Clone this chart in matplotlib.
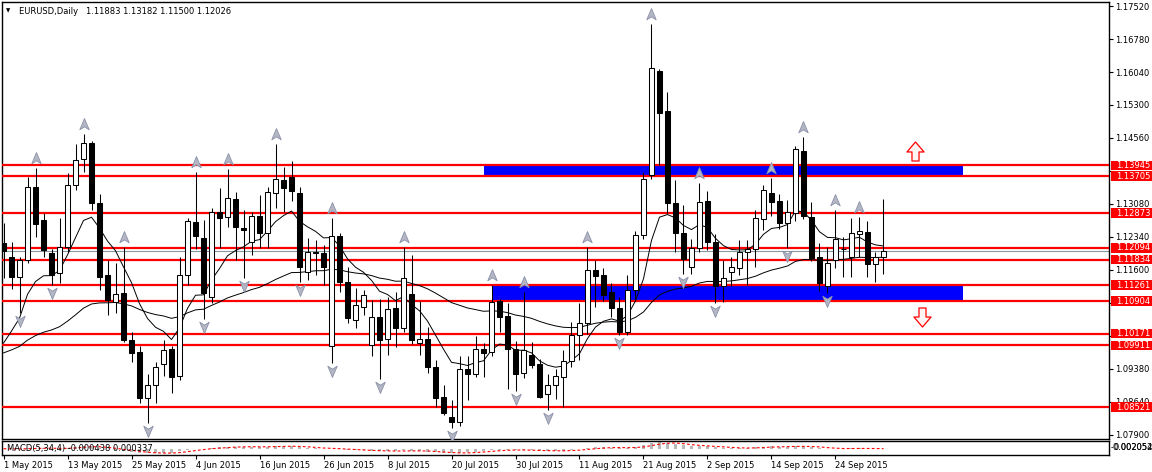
import numpy as np
import pandas as pd
import matplotlib
matplotlib.use("Agg")
import matplotlib.pyplot as plt
from matplotlib.path import Path
from matplotlib.patches import Rectangle
from matplotlib.transforms import blended_transform_factory, offset_copy

plt.rcParams['font.family'] = ['DejaVu Sans']

# EURUSD daily bars, 1 May 2015 .. 2 Oct 2015
opens = [1.1220, 1.1190, 1.1145, 1.1182, 1.1346, 1.1271, 1.1197, 1.1153, 1.1212, 1.1351,
         1.1408, 1.1444, 1.1311, 1.1149, 1.1089, 1.1108, 1.1003, 1.0975, 1.0872, 1.0902,
         1.0949, 1.0983, 1.0922, 1.1149, 1.1268, 1.1231, 1.1100, 1.1289, 1.1278, 1.1320,
         1.1254, 1.1223, 1.1281, 1.1242, 1.1333, 1.1362, 1.1369, 1.1332, 1.1156, 1.1197,
         1.1197, 1.0990, 1.1236, 1.1134, 1.1048, 1.1078, 1.0992, 1.1055, 1.1005, 1.1074,
         1.1029, 1.1106, 1.0996, 1.1005, 1.0942, 1.0874, 1.0830, 1.0818, 1.0937, 1.0927,
         1.0982, 1.0977, 1.1091, 1.1057, 1.0982, 1.0928, 1.0969, 1.0949, 1.0881, 1.0902,
         1.0919, 1.0956, 1.1014, 1.1040, 1.1160, 1.1149, 1.1111, 1.1074, 1.1022, 1.1115,
         1.1238, 1.1373, 1.1606, 1.1517, 1.1311, 1.1242, 1.1167, 1.1209, 1.1315, 1.1223,
         1.1123, 1.1156, 1.1164, 1.1201, 1.1206, 1.1274, 1.1332, 1.1315, 1.1265, 1.1287,
         1.1427, 1.1279, 1.1188, 1.1124, 1.1182, 1.1206, 1.1188, 1.1241, 1.1246, 1.1174,
         1.11883]
highs = [1.1265, 1.1222, 1.1190, 1.1368, 1.1388, 1.1287, 1.1206, 1.1276, 1.1378, 1.1443,
         1.1464, 1.1450, 1.1330, 1.1182, 1.1175, 1.1211, 1.1020, 1.0990, 1.0927, 1.0954,
         1.1003, 1.0990, 1.1190, 1.1276, 1.1380, 1.1273, 1.1300, 1.1343, 1.1386, 1.1335,
         1.1295, 1.1290, 1.1328, 1.1345, 1.1443, 1.1392, 1.1405, 1.1345, 1.1231, 1.1227,
         1.1216, 1.1276, 1.1242, 1.1167, 1.1119, 1.1115, 1.1093, 1.1095, 1.1100, 1.1110,
         1.1212, 1.1194, 1.1090, 1.1033, 1.0958, 1.0903, 1.0868, 1.0966, 1.0966, 1.1011,
         1.0996, 1.1126, 1.1096, 1.1085, 1.1000, 1.1111, 1.0999, 1.0960, 1.0926, 1.0939,
         1.0981, 1.1044, 1.1085, 1.1212, 1.1182, 1.1165, 1.1130, 1.1100, 1.1149, 1.1247,
         1.1380, 1.1711, 1.1611, 1.1560, 1.1362, 1.1306, 1.1229, 1.1354, 1.1338, 1.1241,
         1.1182, 1.1188, 1.1227, 1.1227, 1.1295, 1.1351, 1.1366, 1.1330, 1.1318, 1.1438,
         1.1459, 1.1313, 1.1220, 1.1211, 1.1295, 1.1235, 1.1276, 1.1279, 1.1270, 1.1200,
         1.13182]
lows = [1.1142, 1.1118, 1.1063, 1.1175, 1.1233, 1.1190, 1.1126, 1.1130, 1.1200, 1.1339,
        1.1380, 1.1295, 1.1115, 1.1059, 1.1063, 1.0999, 1.0954, 1.0861, 1.0816, 1.0861,
        1.0922, 1.0883, 1.0913, 1.1126, 1.1207, 1.1051, 1.1085, 1.1209, 1.1257, 1.1182,
        1.1142, 1.1194, 1.1209, 1.1209, 1.1300, 1.1291, 1.1315, 1.1133, 1.1138, 1.1149,
        1.1126, 1.0951, 1.1111, 1.1040, 1.1029, 1.1060, 1.0966, 1.0915, 1.0969, 1.0988,
        1.1020, 1.0995, 1.0969, 1.0928, 1.0853, 1.0835, 1.0805, 1.0810, 1.0868, 1.0919,
        1.0921, 1.0966, 1.1022, 1.0892, 1.0889, 1.0917, 1.0941, 1.0873, 1.0846, 1.0871,
        1.0852, 1.0943, 1.0958, 1.1017, 1.1078, 1.1090, 1.1055, 1.1014, 1.1014, 1.1095,
        1.1230, 1.1363, 1.1395, 1.1287, 1.1201, 1.1151, 1.1151, 1.1200, 1.1205, 1.1085,
        1.1089, 1.1123, 1.1149, 1.1126, 1.1167, 1.1250, 1.1282, 1.1253, 1.1209, 1.1270,
        1.1275, 1.1179, 1.1113, 1.1109, 1.1164, 1.1144, 1.1145, 1.1188, 1.1145, 1.1134,
        1.11500]
closes = [1.1203, 1.1145, 1.1182, 1.1346, 1.1263, 1.1205, 1.1149, 1.1211, 1.1351, 1.1407,
          1.1444, 1.1311, 1.1145, 1.1093, 1.1106, 1.1003, 1.0973, 1.0872, 1.0902, 1.0943,
          1.0981, 1.0921, 1.1149, 1.1270, 1.1236, 1.1108, 1.1289, 1.1277, 1.1321, 1.1256,
          1.1250, 1.1281, 1.1244, 1.1334, 1.1363, 1.1343, 1.1338, 1.1166, 1.1201, 1.1201,
          1.1166, 1.1236, 1.1132, 1.1052, 1.1082, 1.1104, 1.1055, 1.1003, 1.1072, 1.1029,
          1.1141, 1.1003, 1.1005, 1.0942, 1.0872, 1.0840, 1.0820, 1.0937, 1.0927, 1.0982,
          1.0974, 1.1089, 1.1054, 1.0982, 1.0927, 1.0981, 1.0947, 1.0876, 1.0902, 1.0922,
          1.0956, 1.1014, 1.1040, 1.1160, 1.1147, 1.1104, 1.1074, 1.1022, 1.1115, 1.1238,
          1.1363, 1.1614, 1.1513, 1.1311, 1.1242, 1.1184, 1.1209, 1.1313, 1.1223, 1.1123,
          1.1141, 1.1167, 1.1201, 1.1206, 1.1276, 1.1339, 1.1312, 1.1266, 1.1291, 1.1431,
          1.1280, 1.1186, 1.1130, 1.1176, 1.1229, 1.1206, 1.1242, 1.1248, 1.1174, 1.1188,
          1.12026]

# moving average values at the first bar
fast_start, slow_start = 1.0996, 1.0974

# horizontal levels with their price tags
levels = [1.13945, 1.13705, 1.12873, 1.12094, 1.11834, 1.11261, 1.10904, 1.10171, 1.09911, 1.08521]
# blue zones: start bar, end bar, low, high
zones = [(60, 120, 1.13705, 1.13945), (61, 120, 1.10904, 1.11261)]
# block arrows: bar, price, direction
arrows = [(113.9, 1.14268, 1), (114.8, 1.10534, -1)]

n = len(closes)
x = np.arange(n)
dates = pd.bdate_range("2015-05-01", periods=n)
o, h, l, c = (np.array(v) for v in (opens, highs, lows, closes))


def ema(values, period, start):
    a = 2.0 / (period + 1)
    out = [start]
    for v in values[1:]:
        out.append(out[-1] + a * (v - out[-1]))
    return np.array(out)


W, H = 1152, 472
fig = plt.figure(figsize=(W / 100, H / 100), dpi=100)
ax = fig.add_axes([2 / W, 33 / H, 1107 / W, 437 / H])
axm = fig.add_axes([2 / W, 17 / H, 1107 / W, 14 / H])

xlim = (-0.19, 138.19)
ax.set_xlim(*xlim)
ax.set_ylim(1.07809, 1.17610)

# zones, levels and current price line
for x0, x1, lo, hi in zones:
    ax.add_patch(Rectangle((x0, lo), x1 - x0, hi - lo, facecolor='#0000ff', edgecolor='none', zorder=1))
for lv in levels:
    ax.axhline(lv, color='#ff0000', lw=1.6, zorder=3)
ax.axhline(c[-1], color='#8a96a0', lw=0.8, zorder=2)

# moving averages
ax.plot(x, ema(c, 10, fast_start), color='black', lw=0.7, zorder=3.5)
ax.plot(x, ema(c, 50, slow_start), color='black', lw=0.7, zorder=3.5)

# candles
up = c >= o
ax.vlines(x, l, h, color='black', lw=0.75, zorder=4)
ax.bar(x[up], (c - o)[up], bottom=o[up], width=0.6, color='white', edgecolor='black', lw=0.75, zorder=5)
ax.bar(x[~up], (o - c)[~up], bottom=c[~up], width=0.6, color='black', edgecolor='black', lw=0.75, zorder=5)

# fractals
head = Path([(0, 1), (0.8, -0.9), (0, -0.4), (-0.8, -0.9), (0, 1)],
            [Path.MOVETO, Path.LINETO, Path.LINETO, Path.LINETO, Path.CLOSEPOLY])
head_dn = Path(head.vertices * [1, -1], head.codes)
up_fr = [i for i in range(2, n - 2) if h[i] > max(h[i - 2], h[i - 1]) and h[i] >= max(h[i + 1], h[i + 2])]
dn_fr = [i for i in range(2, n - 2) if l[i] < min(l[i - 2], l[i - 1]) and l[i] <= min(l[i + 1], l[i + 2])]
t_up = offset_copy(ax.transData, fig=fig, y=10, units='dots')
t_dn = offset_copy(ax.transData, fig=fig, y=-8, units='dots')
ax.plot(x[up_fr], h[up_fr], ls='none', marker=head, ms=8.5, mfc='#b4b6c4', mec='#8890a8', mew=0.6,
        transform=t_up, zorder=6)
ax.plot(x[dn_fr], l[dn_fr], ls='none', marker=head_dn, ms=8.5, mfc='#b4b6c4', mec='#8890a8', mew=0.6,
        transform=t_dn, zorder=6)

# block arrows
arrow = Path([(0, 1), (0.9, -0.05), (0.37, -0.05), (0.37, -1), (-0.37, -1), (-0.37, -0.05), (-0.9, -0.05), (0, 1)],
             [Path.MOVETO] + [Path.LINETO] * 6 + [Path.CLOSEPOLY])
for ab, ap, d in arrows:
    mk = arrow if d > 0 else Path(arrow.vertices * [1, -1], arrow.codes)
    ax.plot([ab], [ap], marker=mk, ms=13.7, mfc='#fff4f4', mec='#ff0000', mew=0.9, ls='none', zorder=6)

# right price scale
yt = np.round(1.0790 + 0.0074 * np.arange(14), 5)
ax.yaxis.tick_right()
ax.set_yticks(yt)
ax.set_yticklabels(['' if min(abs(t - lv) for lv in levels) < 0.00117 else f'{t:.5f}' for t in yt])
ax.tick_params(axis='y', direction='out', length=3, width=0.8, pad=1.5, labelsize=6)
ax.set_xticks([])

tb = blended_transform_factory(fig.transFigure, ax.transData)
for lv in levels:
    ax.add_patch(Rectangle((1111 / W, lv - 0.00107), 41 / W, 0.00214, transform=tb,
                           facecolor='#ff0000', edgecolor='none', clip_on=False, zorder=10))
    ax.text(1116 / W, lv, f'{lv:.5f}', transform=tb, color='white', fontsize=6,
            va='center', ha='left', clip_on=False, zorder=11)

ax.text(4 / 1107, 1 - 9 / 437, '\u25bc', transform=ax.transAxes, fontsize=4, va='center', ha='left')
ax.text(17 / 1107, 1 - 9 / 437, 'EURUSD,Daily   1.11883 1.13182 1.11500 1.12026',
        transform=ax.transAxes, fontsize=6, va='center', ha='left')

for a in (ax, axm):
    for s in a.spines.values():
        s.set_linewidth(1.0)
        s.set_color('black')

# MACD panel
cs = pd.Series(closes)
macd = cs.ewm(span=5, adjust=False).mean() - cs.ewm(span=34, adjust=False).mean()
signal = macd.rolling(4, min_periods=1).mean()
pk = macd.abs().max()
rng = pk / 0.48
axm.bar(x, macd, width=0.45, color='#b8b8b8', zorder=2)
axm.plot(x, signal, color='#ff0000', lw=0.8, ls=(0, (2.5, 2)), zorder=3)
axm.set_xlim(*xlim)
axm.set_ylim(-0.45 * rng, 0.55 * rng)
axm.set_yticks([])
axm.set_xticks(x[::8])
axm.set_xticklabels([f'{d.day} {d:%b %Y}' for d in dates[::8]], ha='left')
axm.tick_params(axis='x', direction='out', length=3, width=0.8, pad=1, labelsize=6)
axm.text(5 / 1107, 0.45, 'MACD(5,34,4) -0.000438 0.000337', transform=axm.transAxes,
         fontsize=6, va='center', ha='left', zorder=5)
axm.text(1.0015, 0.5, '-0.002054', transform=axm.transAxes, fontsize=6, va='center', ha='left', clip_on=False)
axm.text(1.004, 0.55, '0.002052', transform=axm.transAxes, fontsize=6, va='center', ha='left', clip_on=False)

fig.savefig('out.png', dpi=100, facecolor='white')
